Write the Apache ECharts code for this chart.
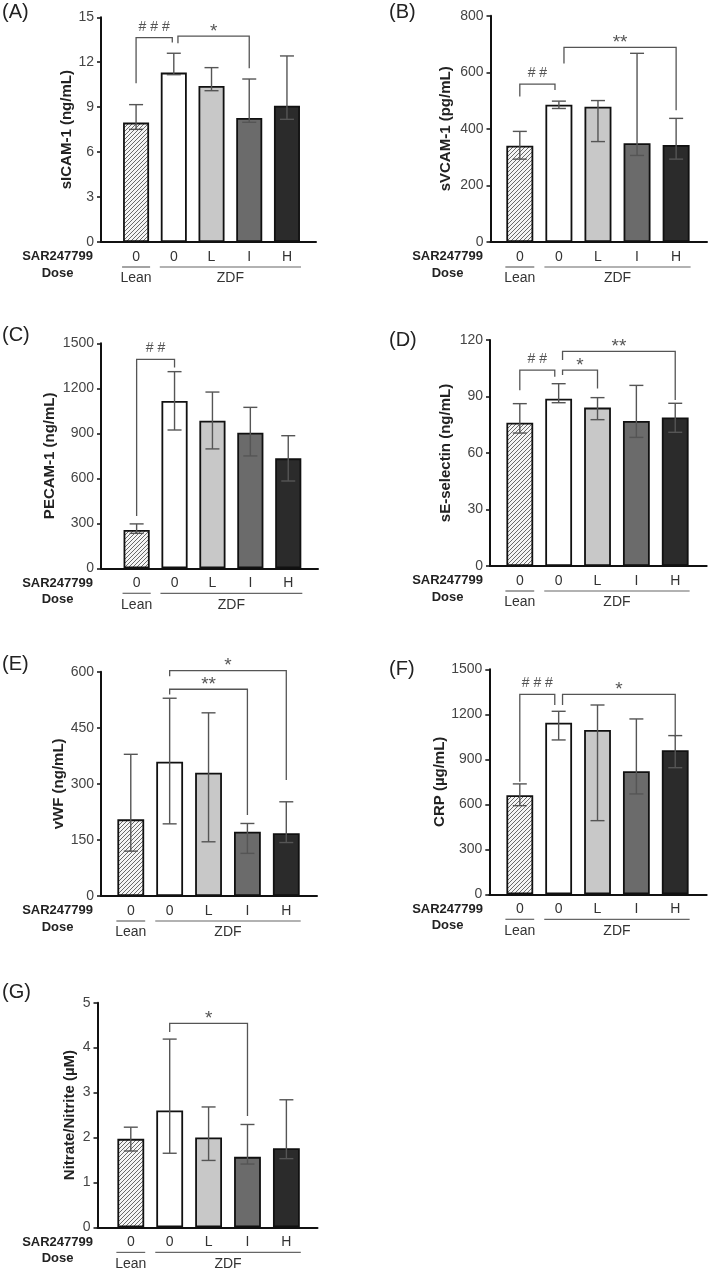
<!DOCTYPE html>
<html>
<head>
<meta charset="utf-8">
<script src="https://cdn.jsdelivr.net/npm/echarts@6/dist/echarts.min.js"></script>
<style>
html,body{margin:0;padding:0;background:#ffffff;}
#chart{width:709px;height:1271px;}
</style>
</head>
<body>
<div id="chart"></div>
<script>
// ---------- shared categories ----------
const doseLabels = ['0', '0', 'L', 'I', 'H'];
const groupNames = ['Lean', 'ZDF'];
const groupFirst = [0, 1];
const groupLast = [0, 4];
const rowTitles = ['SAR247799', 'Dose'];
const panelLabels = ['(A)', '(B)', '(C)', '(D)', '(E)', '(F)', '(G)'];
const yTitles = ['sICAM-1 (ng/mL)', 'sVCAM-1 (pg/mL)', 'PECAM-1 (ng/mL)', 'sE-selectin (ng/mL)', 'vWF (ng/mL)', 'CRP (µg/mL)', 'Nitrate/Nitrite (µM)'];

// ---------- (A) sICAM-1 ----------
const sicamMean = [7.97, 11.31, 10.42, 8.28, 9.10];
const sicamLow  = [7.52, 11.17, 10.10, 7.99, 8.19];
const sicamHigh = [9.17, 12.60, 11.64, 10.88, 12.42];
const sicamAxis = [15, 3];
const sicamBrackets = [[0, 0.96, 13.64, 10.6, 13.31], [1.11, 3, 13.75, 13.27, 11.6]];
const sicamMarks = ['# # #', '*'];

// ---------- (B) sVCAM-1 ----------
const svcamMean = [340, 485, 478, 349, 343];
const svcamLow  = [293, 472, 355, 306, 293];
const svcamHigh = [391, 498, 500, 667, 437];
const svcamAxis = [800, 200];
const svcamBrackets = [[0, 0.9, 558, 514, 537], [1.13, 4, 688, 631, 466]];
const svcamMarks = ['# #', '**'];

// ---------- (C) PECAM-1 ----------
const pecamMean = [256, 1116, 984, 904, 733];
const pecamLow  = [233, 922, 796, 749, 582];
const pecamHigh = [296, 1311, 1175, 1073, 884];
const pecamAxis = [1500, 300];
const pecamBrackets = [[0, 1, 1393, 349, 1338]];
const pecamMarks = ['# #'];

// ---------- (D) sE-selectin ----------
const selMean = [76.1, 88.8, 84.1, 77.0, 78.9];
const selLow  = [70.6, 86.7, 77.7, 68.3, 71.0];
const selHigh = [86.2, 96.8, 89.4, 95.9, 86.4];
const selAxis = [120, 30];
const selBrackets = [[0, 0.9, 104, 93.3, 100.5], [1.1, 2, 104, 101.4, 94.3], [1.1, 4, 114, 109.4, 88.1]];
const selMarks = ['# #', '*', '**'];

// ---------- (E) vWF ----------
const vwfMean = [205, 359, 330, 172, 168];
const vwfLow  = [120, 193, 145, 114, 143];
const vwfHigh = [379, 529, 490, 194, 252];
const vwfAxis = [600, 150];
const vwfBrackets = [[1, 4, 603, 588, 310], [1, 3, 553, 539, 217]];
const vwfMarks = ['*', '**'];

// ---------- (F) CRP ----------
const crpMean = [660, 1144, 1096, 820, 960];
const crpLow  = [591, 1029, 491, 669, 844];
const crpHigh = [736, 1220, 1262, 1169, 1058];
const crpAxis = [1500, 300];
const crpBrackets = [[0, 0.9, 1333, 751, 1262], [1.1, 4, 1333, 1262, 1051]];
const crpMarks = ['# # #', '*'];

// ---------- (G) Nitrate/Nitrite ----------
const noxMean = [1.97, 2.60, 2.00, 1.57, 1.76];
const noxLow  = [1.70, 1.65, 1.49, 1.41, 1.53];
const noxHigh = [2.23, 4.19, 2.68, 2.29, 2.84];
const noxAxis = [5, 1];
const noxBrackets = [[1, 3, 4.54, 4.35, 2.48]];
const noxMarks = ['*'];

// ---------- layout / styles ----------
const FONT = '"Liberation Sans", Arial, Helvetica, sans-serif';
const barFills = ['hatch', '#ffffff', '#c8c8c8', '#6b6b6b', '#2b2b2b'];

const layout = [
  {lx: 2,   ly: 2,    left: 101,   top: 17.3,   width: 215,   height: 224.7, xMin: -0.93,  xMax: 4.77, gap: 23.5, rowX: 93},
  {lx: 389, ly: 2,    left: 490.5, top: 15.7,   width: 216.5, height: 226.3, xMin: -0.75,  xMax: 4.79, gap: 37.5, rowX: 483},
  {lx: 2,   ly: 325,  left: 101,   top: 343.3,  width: 217,   height: 225,   xMin: -0.94,  xMax: 4.785, gap: 43.5, rowX: 93},
  {lx: 389, ly: 330,  left: 490,   top: 340,    width: 216.7, height: 226,   xMin: -0.767, xMax: 4.81, gap: 37,   rowX: 483},
  {lx: 2,   ly: 654,  left: 101,   top: 671.7,  width: 216,   height: 224.3, xMin: -0.766, xMax: 4.79, gap: 32,   rowX: 93},
  {lx: 389, ly: 659,  left: 489.3, top: 669.3,  width: 217.4, height: 225,   xMin: -0.785, xMax: 4.81, gap: 38.5, rowX: 483},
  {lx: 2,   ly: 982,  left: 97.5,  top: 1002.7, width: 220,   height: 224.7, xMin: -0.856, xMax: 4.8,  gap: 20,   rowX: 93}
];

const panelData = [
  {mean: sicamMean, low: sicamLow, high: sicamHigh, axis: sicamAxis, br: sicamBrackets, marks: sicamMarks},
  {mean: svcamMean, low: svcamLow, high: svcamHigh, axis: svcamAxis, br: svcamBrackets, marks: svcamMarks},
  {mean: pecamMean, low: pecamLow, high: pecamHigh, axis: pecamAxis, br: pecamBrackets, marks: pecamMarks},
  {mean: selMean, low: selLow, high: selHigh, axis: selAxis, br: selBrackets, marks: selMarks},
  {mean: vwfMean, low: vwfLow, high: vwfHigh, axis: vwfAxis, br: vwfBrackets, marks: vwfMarks},
  {mean: crpMean, low: crpLow, high: crpHigh, axis: crpAxis, br: crpBrackets, marks: crpMarks},
  {mean: noxMean, low: noxLow, high: noxHigh, axis: noxAxis, br: noxBrackets, marks: noxMarks}
];

function makeHatch() {
  const c = document.createElement('canvas');
  const n = 4;
  c.width = n; c.height = n;
  const g = c.getContext('2d');
  g.fillStyle = '#f5f5f5';
  g.fillRect(0, 0, n, n);
  g.strokeStyle = '#5a5a5a';
  g.lineWidth = 0.9;
  g.beginPath();
  g.moveTo(-1, n + 1); g.lineTo(n + 1, -1);
  g.moveTo(-1, 1); g.lineTo(1, -1);
  g.moveTo(n - 1, n + 1); g.lineTo(n + 1, n - 1);
  g.stroke();
  return c;
}
const hatchFill = {image: makeHatch(), repeat: 'repeat'};

function errRender(params, api) {
  const x = api.value(0);
  const a = api.coord([x, api.value(1)]);
  const b = api.coord([x, api.value(2)]);
  const h = 7;
  const st = {stroke: '#555555', lineWidth: 1.4};
  return {type: 'group', children: [
    {type: 'line', shape: {x1: a[0], y1: a[1], x2: b[0], y2: b[1]}, style: st},
    {type: 'line', shape: {x1: a[0] - h, y1: a[1], x2: a[0] + h, y2: a[1]}, style: st},
    {type: 'line', shape: {x1: b[0] - h, y1: b[1], x2: b[0] + h, y2: b[1]}, style: st}
  ]};
}

function makeBracketRender(marks) {
  return function (params, api) {
    const x1 = api.value(0), x2 = api.value(1), yt = api.value(2), yl = api.value(3), yr = api.value(4);
    const pL = api.coord([x1, yl]), pLT = api.coord([x1, yt]), pRT = api.coord([x2, yt]), pR = api.coord([x2, yr]);
    const txt = marks[params.dataIndex];
    const isHash = txt.indexOf('#') >= 0;
    return {type: 'group', children: [
      {type: 'polyline', shape: {points: [pL, pLT, pRT, pR]}, style: {stroke: '#555555', lineWidth: 1.3, fill: null}},
      {type: 'text', x: (pLT[0] + pRT[0]) / 2, y: pLT[1] + (isHash ? -4 : 5),
        style: {text: txt, align: 'center', verticalAlign: 'bottom', fontSize: isHash ? 14 : 19, fontFamily: FONT, fill: '#555555'}}
    ]};
  };
}

function catRender(params, api) {
  const p = api.coord([api.value(0), 0]);
  return {type: 'text', x: p[0], y: p[1] + 14.7,
    style: {text: doseLabels[params.dataIndex], align: 'center', verticalAlign: 'middle', fontSize: 14, fontFamily: FONT, fill: '#333333'}};
}

function groupRender(params, api) {
  const s = api.value(0), e = api.value(1);
  const unit = api.size([1, 0])[0];
  const hw = unit * 0.69 / 2 + 1;
  const a = api.coord([s, 0]), b = api.coord([e, 0]);
  const y = a[1] + 25;
  return {type: 'group', children: [
    {type: 'line', shape: {x1: a[0] - hw, y1: y, x2: b[0] + hw, y2: y}, style: {stroke: '#666666', lineWidth: 1.2}},
    {type: 'text', x: (a[0] + b[0]) / 2, y: a[1] + 36.5,
      style: {text: groupNames[params.dataIndex], align: 'center', verticalAlign: 'middle', fontSize: 14, fontFamily: FONT, fill: '#333333'}}
  ]};
}

function makeRowRender(rowX) {
  return function (params, api) {
    const p = api.coord([0, 0]);
    return {type: 'group', children: [
      {type: 'text', x: rowX, y: p[1] + 14.7,
        style: {text: rowTitles[0], align: 'right', verticalAlign: 'middle', fontSize: 13, fontWeight: 'bold', fontFamily: FONT, fill: '#222222'}},
      {type: 'text', x: rowX - 35.4, y: p[1] + 31.3,
        style: {text: rowTitles[1], align: 'center', verticalAlign: 'middle', fontSize: 13, fontWeight: 'bold', fontFamily: FONT, fill: '#222222'}}
    ]};
  };
}

const grids = [], xAxes = [], yAxes = [], series = [], titles = [];

layout.forEach(function (L, k) {
  const D = panelData[k];
  grids.push({left: L.left, top: L.top, width: L.width, height: L.height, containLabel: false});
  titles.push({text: panelLabels[k], left: L.lx, top: L.ly, padding: 0,
    textStyle: {fontSize: 20, fontWeight: 'normal', color: '#222222', fontFamily: FONT}});
  xAxes.push({gridIndex: k, type: 'value', min: L.xMin, max: L.xMax,
    axisLine: {show: true, onZero: false, lineStyle: {color: '#111111', width: 2}},
    axisTick: {show: false}, axisLabel: {show: false}, splitLine: {show: false}});
  yAxes.push({gridIndex: k, type: 'value', min: 0, max: D.axis[0], interval: D.axis[1],
    name: yTitles[k], nameLocation: 'middle', nameGap: L.gap,
    nameTextStyle: {fontSize: 15, fontWeight: 'bold', color: '#222222', fontFamily: FONT},
    axisLine: {show: true, onZero: false, lineStyle: {color: '#111111', width: 2}},
    axisTick: {show: true, length: 4, lineStyle: {color: '#111111', width: 1.5}},
    axisLabel: {fontSize: 14, color: '#444444', margin: 7, fontFamily: FONT,
      formatter: function (v) { return String(v); }},
    splitLine: {show: false}});

  series.push({type: 'bar', xAxisIndex: k, yAxisIndex: k, barWidth: '69%', silent: true,
    itemStyle: {borderColor: '#111111', borderWidth: 1.8},
    data: D.mean.map(function (v, i) {
      return {value: [i, v], itemStyle: {color: barFills[i] === 'hatch' ? hatchFill : barFills[i]}};
    })});
  series.push({type: 'custom', xAxisIndex: k, yAxisIndex: k, silent: true, renderItem: errRender,
    data: D.mean.map(function (v, i) { return [i, D.low[i], D.high[i]]; }), z: 5});
  series.push({type: 'custom', xAxisIndex: k, yAxisIndex: k, silent: true, renderItem: makeBracketRender(D.marks),
    data: D.br, z: 5});
  series.push({type: 'custom', xAxisIndex: k, yAxisIndex: k, silent: true, renderItem: catRender,
    data: doseLabels.map(function (t, i) { return [i, 0]; })});
  series.push({type: 'custom', xAxisIndex: k, yAxisIndex: k, silent: true, renderItem: groupRender,
    data: groupNames.map(function (g, i) { return [groupFirst[i], groupLast[i]]; })});
  series.push({type: 'custom', xAxisIndex: k, yAxisIndex: k, silent: true, renderItem: makeRowRender(L.rowX),
    data: [[0, 0]]});
});

const chart = echarts.init(document.getElementById('chart'), null, {renderer: 'canvas'});
chart.setOption({
  backgroundColor: '#ffffff',
  animation: false,
  title: titles,
  grid: grids,
  xAxis: xAxes,
  yAxis: yAxes,
  series: series
});
</script>
</body>
</html>
